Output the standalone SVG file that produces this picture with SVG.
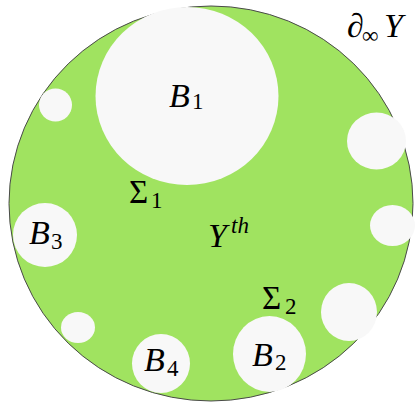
<svg xmlns="http://www.w3.org/2000/svg" width="415" height="402" viewBox="0 0 415 402">
<style>
.hole{fill:#f8f8f8;stroke:none}
.t{font-family:"Liberation Serif","Times New Roman",serif;fill:#000}
.i{font-style:italic;font-size:34px}
.u{font-size:33px}
.s{font-size:23px}
</style>
<rect width="415" height="402" fill="#ffffff"/>
<g id="region">
<ellipse cx="211" cy="203.5" rx="202" ry="197.5" fill="#a0e360" stroke="#4a4a4a" stroke-width="1"/>
</g>
<g id="B1"><ellipse class="hole" cx="187" cy="96" rx="91.5" ry="89"/>
<text class="t i" x="169" y="107">B</text><text class="t s" x="192" y="109">1</text></g>
<g id="hole-a"><circle class="hole" cx="55.5" cy="105" r="16.5"/></g>
<g id="B3"><circle class="hole" cx="45" cy="235" r="32"/>
<text class="t i" x="29" y="244">B</text><text class="t s" x="51" y="249">3</text></g>
<g id="hole-b"><ellipse class="hole" cx="78" cy="327.5" rx="17" ry="15.5"/></g>
<g id="B4"><ellipse class="hole" cx="161" cy="363.5" rx="29" ry="29.5"/>
<text class="t i" x="144" y="371">B</text><text class="t s" x="167" y="376">4</text></g>
<g id="B2"><ellipse class="hole" cx="269.5" cy="354" rx="36.5" ry="38"/>
<text class="t i" x="252" y="366">B</text><text class="t s" x="275" y="370">2</text></g>
<g id="hole-c"><ellipse class="hole" cx="349" cy="312" rx="28" ry="29"/></g>
<g id="hole-d"><ellipse class="hole" cx="392.5" cy="225.5" rx="22.5" ry="20.5"/></g>
<g id="hole-e"><ellipse class="hole" cx="376.5" cy="141" rx="29.5" ry="28.5"/></g>
<g id="labels">
<text class="t u" x="129" y="203">Σ</text><text class="t s" x="151" y="208">1</text>
<text class="t i" x="208" y="247">Y</text><text class="t i" x="231" y="233" style="font-size:23px">th</text>
<text class="t u" x="262" y="309">Σ</text><text class="t s" x="285" y="314">2</text>
<text class="t i" x="347" y="37">∂</text><text class="t s" x="362" y="43">∞</text><text class="t i" x="384" y="37">Y</text>
</g>
</svg>
